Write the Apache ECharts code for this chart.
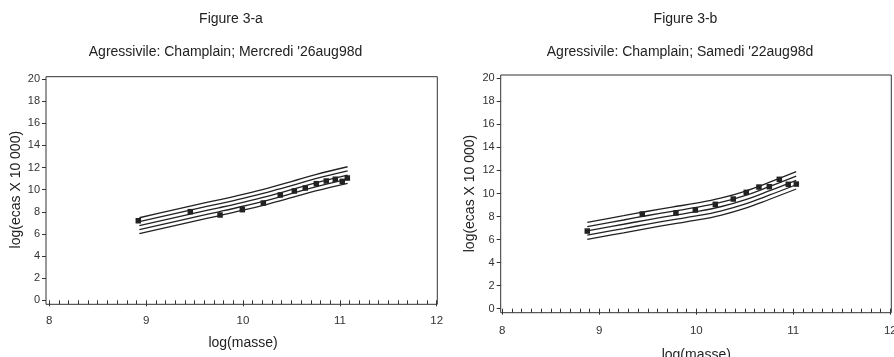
<!DOCTYPE html>
<html>
<head>
<meta charset="utf-8">
<script src="https://cdn.jsdelivr.net/npm/echarts@6/dist/echarts.min.js"></script>
<style>
html,body{margin:0;padding:0;background:#fff;}
#c{width:894px;height:357px;}
</style>
</head>
<body>
<div id="c"></div>
<script>
// ---- Data ----
const titleA = 'Figure 3-a';
const subA = "Agressivile: Champlain; Mercredi '26aug98d";
const titleB = 'Figure 3-b';
const subB = "Agressivile: Champlain; Samedi '22aug98d";
const xName = 'log(masse)';
const yName = 'log(ecas X 10 000)';
const xTicks = [8, 9, 10, 11, 12];
const yTicks = [0, 2, 4, 6, 8, 10, 12, 14, 16, 18, 20];

// Figure 3-a observed points
const aPtsX = [8.919, 9.456, 9.763, 9.993, 10.21, 10.385, 10.53, 10.643, 10.757, 10.86, 10.953, 11.025, 11.077];
const aPtsY = [7.19, 8.01, 7.71, 8.19, 8.79, 9.52, 9.88, 10.15, 10.54, 10.78, 10.94, 10.75, 11.05];
// Figure 3-a fitted curves (5 lines)
const aCurveX = [8.93, 9.25, 9.5, 9.75, 10.0, 10.25, 10.5, 10.75, 11.08];
const aLine1 = [7.46, 8.10, 8.60, 9.08, 9.58, 10.12, 10.73, 11.36, 12.07];
const aLine2 = [7.10, 7.74, 8.24, 8.72, 9.22, 9.76, 10.36, 10.99, 11.70];
const aLine3 = [6.74, 7.38, 7.88, 8.36, 8.86, 9.40, 10.00, 10.62, 11.32];
const aLine4 = [6.38, 7.02, 7.52, 8.00, 8.50, 9.04, 9.64, 10.25, 10.95];
const aLine5 = [6.02, 6.66, 7.16, 7.64, 8.14, 8.68, 9.27, 9.88, 10.57];

// Figure 3-b observed points
const bPtsX = [8.876, 9.443, 9.79, 9.99, 10.196, 10.381, 10.515, 10.646, 10.753, 10.856, 10.948, 11.031];
const bPtsY = [6.74, 8.22, 8.31, 8.57, 9.06, 9.52, 10.10, 10.56, 10.59, 11.23, 10.80, 10.82];
// Figure 3-b fitted curves (5 lines)
const bCurveX = [8.876, 9.25, 9.5, 9.75, 10.0, 10.25, 10.5, 10.75, 11.03];
const bLine1 = [7.50, 8.07, 8.46, 8.82, 9.16, 9.59, 10.19, 10.96, 11.89];
const bLine2 = [7.13, 7.70, 8.09, 8.45, 8.79, 9.22, 9.82, 10.59, 11.51];
const bLine3 = [6.76, 7.33, 7.72, 8.08, 8.42, 8.85, 9.45, 10.22, 11.14];
const bLine4 = [6.39, 6.96, 7.35, 7.71, 8.05, 8.48, 9.08, 9.85, 10.76];
const bLine5 = [6.02, 6.59, 6.98, 7.34, 7.68, 8.11, 8.71, 9.48, 10.39];

// ---- Build ----
const FONT = '"Liberation Sans", Arial, Helvetica, sans-serif';
const INK = '#222';
const zip = (xs, ys) => xs.map((x, i) => [x, ys[i]]);

function innerX(gridIndex, labelMargin, nameGap) {
  return {
    type: 'value', gridIndex, min: xTicks[0], max: xTicks[xTicks.length - 1], interval: 1,
    offset: 4,
    axisLine: { show: false },
    axisTick: { show: true, length: 6, inside: false, lineStyle: { color: '#333', width: 1 } },
    minorTick: { show: true, splitNumber: 10, length: 4, lineStyle: { color: '#333', width: 1 } },
    splitLine: { show: false },
    axisLabel: { show: true, margin: labelMargin, fontSize: 11.5, color: '#333', fontFamily: FONT },
    name: xName, nameLocation: 'middle', nameGap,
    nameTextStyle: { fontSize: 14, color: INK, fontFamily: FONT }
  };
}
function innerY(gridIndex, offset, nameGap) {
  return {
    type: 'value', gridIndex, min: yTicks[0], max: yTicks[yTicks.length - 1], interval: 2,
    offset,
    axisLine: { show: false },
    axisTick: { show: true, length: 4, inside: false, lineStyle: { color: '#333', width: 1 } },
    splitLine: { show: false },
    axisLabel: { show: true, margin: 6, fontSize: 11, color: '#333', fontFamily: FONT },
    name: yName, nameLocation: 'middle', nameGap, nameRotate: 90,
    nameTextStyle: { fontSize: 14, color: INK, fontFamily: FONT }
  };
}
const hiddenAxis = (gridIndex) => ({ type: 'value', gridIndex, show: false, min: 0, max: 1 });

function curveSeries(xAxisIndex, yAxisIndex, xs, lines) {
  return lines.map(ys => ({
    type: 'line', xAxisIndex, yAxisIndex, data: zip(xs, ys),
    smooth: 0.4, symbol: 'none', silent: true,
    lineStyle: { color: INK, width: 1.3 }
  }));
}
function pointSeries(xAxisIndex, yAxisIndex, xs, ys) {
  return {
    type: 'scatter', xAxisIndex, yAxisIndex, data: zip(xs, ys),
    symbol: 'rect', symbolSize: 5.5, itemStyle: { color: INK, opacity: 1 }, z: 5
  };
}

const G = { outerBoundsMode: 'none', containLabel: false };
const chart = echarts.init(document.getElementById('c'), null, { renderer: 'canvas' });
chart.setOption({
  animation: false,
  backgroundColor: '#fff',
  textStyle: { fontFamily: FONT },
  graphic: [
    { type: 'text', x: 231, y: 19, style: { text: titleA, fontSize: 14, fontFamily: FONT, fill: INK, align: 'center', verticalAlign: 'middle' } },
    { type: 'text', x: 225.5, y: 52, style: { text: subA, fontSize: 14, fontFamily: FONT, fill: INK, align: 'center', verticalAlign: 'middle' } },
    { type: 'text', x: 685.5, y: 19, style: { text: titleB, fontSize: 14, fontFamily: FONT, fill: INK, align: 'center', verticalAlign: 'middle' } },
    { type: 'text', x: 680, y: 52, style: { text: subB, fontSize: 14, fontFamily: FONT, fill: INK, align: 'center', verticalAlign: 'middle' } }
  ],
  grid: [
    Object.assign({ left: 46, top: 76.7, width: 391.3, height: 227.6, show: true, borderColor: '#333', borderWidth: 1, backgroundColor: 'transparent' }, G),
    Object.assign({ left: 49.3, top: 79, width: 387.4, height: 221.3 }, G),
    Object.assign({ left: 500.7, top: 75, width: 390.6, height: 237.7, show: true, borderColor: '#333', borderWidth: 1, backgroundColor: 'transparent' }, G),
    Object.assign({ left: 502.3, top: 78.3, width: 388, height: 230.4 }, G)
  ],
  xAxis: [hiddenAxis(0), innerX(1, 11, 32), hiddenAxis(2), innerX(3, 12, 35)],
  yAxis: [hiddenAxis(0), innerY(1, 3.3, 23), hiddenAxis(2), innerY(3, 1.6, 24)],
  series: [
    ...curveSeries(1, 1, aCurveX, [aLine1, aLine2, aLine3, aLine4, aLine5]),
    pointSeries(1, 1, aPtsX, aPtsY),
    ...curveSeries(3, 3, bCurveX, [bLine1, bLine2, bLine3, bLine4, bLine5]),
    pointSeries(3, 3, bPtsX, bPtsY)
  ]
});
</script>
</body>
</html>
